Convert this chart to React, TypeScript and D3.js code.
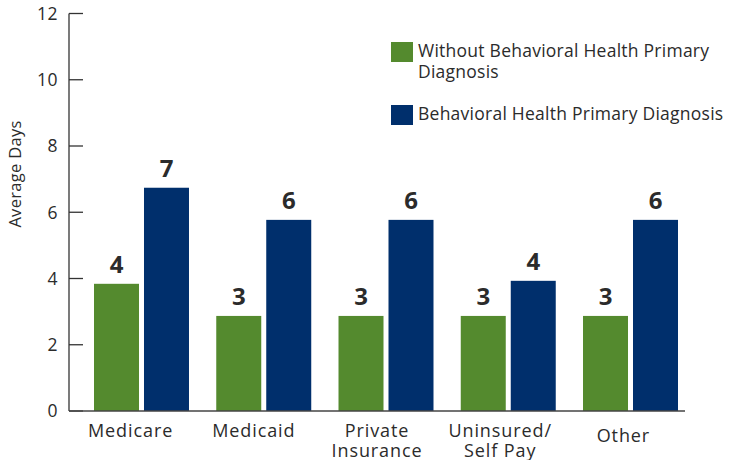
import { useEffect, useRef } from "react";
import * as d3 from "d3";

const categories = ["Medicare", "Medicaid", "Private Insurance", "Uninsured/ Self Pay", "Other"];
const categoryLines = [["Medicare"], ["Medicaid"], ["Private", "Insurance"], ["Uninsured/", "Self Pay"], ["Other"]];
const series = ["Without Behavioral Health Primary Diagnosis", "Behavioral Health Primary Diagnosis"];
const withoutBH = [3.84, 2.87, 2.87, 2.87, 2.87];
const withBH = [6.74, 5.77, 5.77, 3.93, 5.77];
const withoutLabels = ["4", "3", "3", "3", "3"];
const withLabels = ["7", "6", "6", "4", "6"];
const yTicks = [0, 2, 4, 6, 8, 10, 12];

const GREEN = "#548A2E";
const NAVY = "#002F6C";
const TEXT = "#2b2b2b";
const FONT = "'Open Sans', Lato, sans-serif";

export default function App() {
  const svgRef = useRef<SVGSVGElement | null>(null);

  useEffect(() => {
    if (!svgRef.current) return;
    const width = 729;
    const height = 460;
    const svg = d3.select(svgRef.current);
    svg.selectAll("*").remove();
    svg.attr("width", width).attr("height", height).style("font-family", FONT);

    const axisLeft = 69;
    const axisRight = 685;

    const y = d3.scaleLinear().domain([0, 12]).range([411, 13.5]);

    // tick label positions (evenly over the axis)
    const xAxis = d3.scaleBand<string>().domain(categories).range([axisLeft, axisRight]);
    // bar groups sit a bit to the right of the labels
    const x0 = d3.scaleBand<string>().domain(categories).range([94, 678]).paddingInner(0.223);
    const x1 = d3.scaleBand<string>().domain(series).range([0, x0.bandwidth()]).paddingInner(0.1);
    const color = d3.scaleOrdinal<string, string>().domain(series).range([GREEN, NAVY]);

    // y axis
    svg.append("line")
      .attr("x1", axisLeft).attr("x2", axisLeft)
      .attr("y1", y(12)).attr("y2", y(0))
      .attr("stroke", "#333").attr("stroke-width", 1.3);
    svg.selectAll("line.tick")
      .data(yTicks)
      .enter()
      .append("line")
      .attr("class", "tick")
      .attr("x1", axisLeft).attr("x2", axisLeft + 14)
      .attr("y1", d => y(d)).attr("y2", d => y(d))
      .attr("stroke", "#333").attr("stroke-width", 1.3);
    svg.selectAll("text.ytick")
      .data(yTicks)
      .enter()
      .append("text")
      .attr("class", "ytick")
      .attr("x", 58)
      .attr("y", d => y(d))
      .attr("dy", "0.36em")
      .attr("text-anchor", "end")
      .attr("font-size", 17.5)
      .attr("letter-spacing", 0.5)
      .attr("fill", TEXT)
      .text(d => d);

    svg.append("text")
      .attr("transform", `translate(21,174) rotate(-90)`)
      .attr("text-anchor", "middle")
      .attr("font-size", 16.5)
      .attr("letter-spacing", 0.3)
      .attr("fill", TEXT)
      .text("Average Days");

    // bars
    const rows = categories.map((c, i) => ({
      cat: c,
      vals: [
        { s: series[0], v: withoutBH[i], label: withoutLabels[i] },
        { s: series[1], v: withBH[i], label: withLabels[i] },
      ],
    }));

    const groups = svg.selectAll("g.group")
      .data(rows)
      .enter()
      .append("g")
      .attr("class", "group")
      .attr("transform", d => `translate(${x0(d.cat)},0)`);

    groups.selectAll("rect")
      .data(d => d.vals)
      .enter()
      .append("rect")
      .attr("x", d => x1(d.s)!)
      .attr("y", d => y(d.v))
      .attr("width", x1.bandwidth())
      .attr("height", d => y(0) - y(d.v))
      .attr("fill", d => color(d.s));

    groups.selectAll("text.value")
      .data(d => d.vals)
      .enter()
      .append("text")
      .attr("class", "value")
      .attr("x", d => x1(d.s)! + x1.bandwidth() / 2)
      .attr("y", d => y(d.v) - 11)
      .attr("text-anchor", "middle")
      .attr("font-size", 24)
      .attr("font-weight", 700)
      .attr("fill", TEXT)
      .text(d => d.label);

    // baseline
    svg.append("line")
      .attr("x1", axisLeft).attr("x2", axisRight)
      .attr("y1", y(0)).attr("y2", y(0))
      .attr("stroke", "#444").attr("stroke-width", 1.3);

    // category labels
    categories.forEach((c, i) => {
      const lines = categoryLines[i];
      const t = svg.append("text")
        .attr("x", xAxis(c)! + xAxis.bandwidth() / 2)
        .attr("y", c === "Other" ? 442 : 437)
        .attr("text-anchor", "middle")
        .attr("font-size", 18)
        .attr("letter-spacing", 0.9)
        .attr("fill", TEXT);
      lines.forEach((l, j) => {
        t.append("tspan")
          .attr("x", xAxis(c)! + xAxis.bandwidth() / 2)
          .attr("dy", j === 0 ? 0 : 20)
          .text(l);
      });
    });

    // legend
    const legend = svg.append("g").attr("transform", "translate(391,42)");
    const legendLines = [["Without Behavioral Health Primary", "Diagnosis"], ["Behavioral Health Primary Diagnosis"]];
    series.forEach((s, i) => {
      const g = legend.append("g").attr("transform", `translate(0,${i * 63})`);
      g.append("rect").attr("width", 22).attr("height", 20).attr("fill", color(s));
      const t = g.append("text")
        .attr("x", 27)
        .attr("y", 15)
        .attr("font-size", 17.5)
        .attr("letter-spacing", 0.25)
        .attr("fill", TEXT);
      legendLines[i].forEach((l, j) => {
        t.append("tspan").attr("x", 27).attr("dy", j === 0 ? 0 : 21).text(l);
      });
    });
  }, []);

  return <svg ref={svgRef} style={{ position: "absolute", left: 0, top: 0 }} />;
}
